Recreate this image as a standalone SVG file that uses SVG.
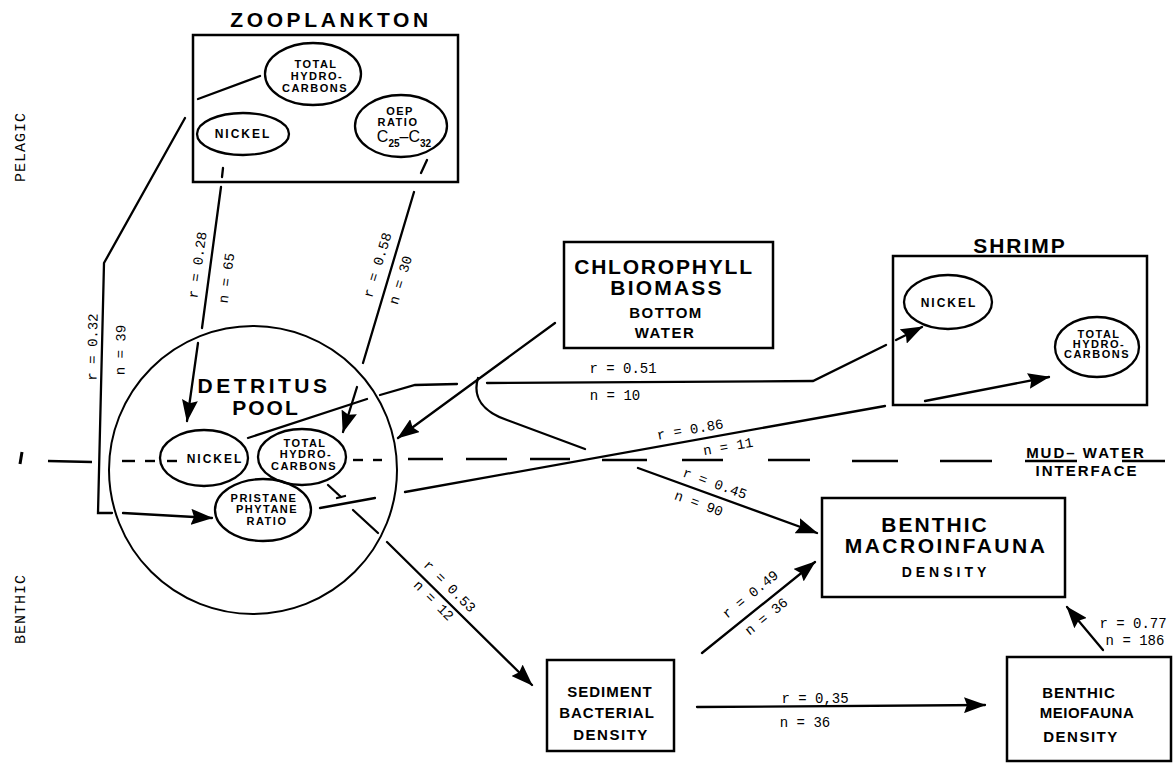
<svg xmlns="http://www.w3.org/2000/svg" width="1176" height="763" viewBox="0 0 1176 763">
<style>
.box{fill:none;stroke:#000;stroke-width:2.5}
.ell{fill:none;stroke:#000;stroke-width:2.3}
.ln{fill:none;stroke:#000;stroke-width:2.3;stroke-linecap:round}
.dash{stroke:#000;stroke-width:2.4}
.t{font-family:"Liberation Sans",Arial,sans-serif;font-weight:bold;fill:#000;text-anchor:middle}
.s{font-size:11px;letter-spacing:1.5px}
.m{font-family:"Liberation Mono","Courier New",monospace;font-size:14px;fill:#000;text-anchor:middle}
.side{font-family:"Liberation Mono","Courier New",monospace;font-size:15px;fill:#000;text-anchor:middle;letter-spacing:1px}
</style>
<defs>
<marker id="ah" viewBox="0 0 22 16" refX="21" refY="8" markerWidth="22" markerHeight="16" markerUnits="userSpaceOnUse" orient="auto">
<path d="M0,0 L22,8 L0,16 L3,8 Z" fill="#000"/>
</marker>
</defs>
<rect width="1176" height="763" fill="#fff"/>

<g id="side-labels">
<text class="side" transform="translate(25,147) rotate(-90)">PELAGIC</text>
<text class="side" transform="translate(25,609) rotate(-90)">BENTHIC</text>
</g>

<g id="interface">
<line class="dash" x1="22" y1="452" x2="20" y2="464" style="stroke-width:3"/>
<line class="dash" x1="48" y1="461" x2="92" y2="462"/>
<line class="dash" x1="122" y1="461" x2="135" y2="461"/>
<line class="dash" x1="145" y1="461" x2="155" y2="461"/>
<line class="dash" x1="167" y1="461" x2="177" y2="461"/>
<line class="dash" x1="353" y1="460" x2="363" y2="460"/>
<line class="dash" x1="373" y1="460" x2="382" y2="460"/>
<line class="dash" x1="408" y1="459" x2="443" y2="459"/>
<line class="dash" x1="466" y1="459" x2="507" y2="459"/>
<line class="dash" x1="530" y1="459" x2="570" y2="459"/>
<line class="dash" x1="602" y1="460" x2="647" y2="460"/>
<line class="dash" x1="682" y1="460" x2="723" y2="460"/>
<line class="dash" x1="768" y1="460" x2="810" y2="460"/>
<line class="dash" x1="852" y1="461" x2="898" y2="461"/>
<line class="dash" x1="940" y1="461" x2="992" y2="461"/>
<line class="dash" x1="1025" y1="461" x2="1077" y2="461"/>
<line class="dash" x1="1122" y1="461" x2="1165" y2="461"/>
<text class="t" x="1086" y="458" style="font-size:15px;letter-spacing:2px">MUD– WATER</text>
<text class="t" x="1087" y="476" style="font-size:15px;letter-spacing:2px">INTERFACE</text>
</g>

<g id="zooplankton">
<text class="t" x="331" y="27" style="font-size:21px;letter-spacing:3.6px">ZOOPLANKTON</text>
<rect class="box" x="193" y="35" width="265" height="147"/>
<ellipse class="ell" cx="313" cy="74" rx="48" ry="31"/>
<text class="t s" x="316" y="68">TOTAL</text>
<text class="t s" x="317" y="80">HYDRO-</text>
<text class="t s" x="315" y="92">CARBONS</text>
<ellipse class="ell" cx="243" cy="134" rx="46" ry="21"/>
<text class="t" x="243" y="138" style="font-size:12px;letter-spacing:2px">NICKEL</text>
<ellipse class="ell" cx="401" cy="126" rx="46" ry="31"/>
<text class="t s" x="400" y="115">OEP</text>
<text class="t s" x="398" y="126">RATIO</text>
<text class="t" x="404" y="142" style="font-size:16px;font-weight:normal">C<tspan style="font-size:10px;font-weight:bold" dy="5">25</tspan><tspan dy="-5">–C</tspan><tspan style="font-size:10px;font-weight:bold" dy="5">32</tspan></text>
</g>

<g id="detritus-pool">
<circle cx="253" cy="470" r="144" fill="none" stroke="#000" stroke-width="2"/>
<text class="t" x="264" y="393" style="font-size:21px;letter-spacing:3.5px">DETRITUS</text>
<text class="t" x="266" y="415" style="font-size:21px;letter-spacing:2px">POOL</text>
<ellipse class="ell" cx="204" cy="458" rx="44" ry="28"/>
<text class="t" x="215" y="463" style="font-size:12px;letter-spacing:2px">NICKEL</text>
<ellipse class="ell" cx="302" cy="457" rx="44" ry="28"/>
<text class="t s" x="305" y="447">TOTAL</text>
<text class="t s" x="306" y="458">HYDRO-</text>
<text class="t s" x="304" y="470">CARBONS</text>
<ellipse class="ell" cx="263" cy="510" rx="48" ry="31"/>
<text class="t s" x="264" y="502">PRISTANE</text>
<text class="t s" x="267" y="513">PHYTANE</text>
<text class="t s" x="267" y="525">RATIO</text>
</g>

<g id="chlorophyll">
<rect class="box" x="564" y="242" width="209" height="106"/>
<text class="t" x="664" y="274" style="font-size:21px;letter-spacing:1.8px">CHLOROPHYLL</text>
<text class="t" x="667" y="295" style="font-size:21px;letter-spacing:2.2px">BIOMASS</text>
<text class="t" x="666" y="318" style="font-size:15px;letter-spacing:1.5px">BOTTOM</text>
<text class="t" x="665" y="338" style="font-size:15px;letter-spacing:1.5px">WATER</text>
</g>

<g id="shrimp">
<text class="t" x="1020" y="253" style="font-size:21px;letter-spacing:2px">SHRIMP</text>
<rect class="box" x="893" y="256" width="254" height="149"/>
<ellipse class="ell" cx="948" cy="302" rx="44" ry="27"/>
<text class="t" x="949" y="307" style="font-size:12px;letter-spacing:2px">NICKEL</text>
<ellipse class="ell" cx="1097" cy="347" rx="42" ry="30"/>
<text class="t s" x="1099" y="338">TOTAL</text>
<text class="t s" x="1099" y="348">HYDRO-</text>
<text class="t s" x="1097" y="358">CARBONS</text>
</g>

<g id="benthic-macroinfauna">
<rect class="box" x="822" y="498" width="243" height="99"/>
<text class="t" x="935" y="532" style="font-size:21px;letter-spacing:2px">BENTHIC</text>
<text class="t" x="946" y="553" style="font-size:21px;letter-spacing:2.5px">MACROINFAUNA</text>
<text class="t" x="946" y="577" style="font-size:14px;letter-spacing:4px">DENSITY</text>
</g>

<g id="sediment">
<rect class="box" x="547" y="660" width="127" height="91"/>
<text class="t" x="610" y="697" style="font-size:15px;letter-spacing:1px">SEDIMENT</text>
<text class="t" x="607" y="718" style="font-size:15px;letter-spacing:1px">BACTERIAL</text>
<text class="t" x="611" y="740" style="font-size:15px;letter-spacing:1.5px">DENSITY</text>
</g>

<g id="benthic-meiofauna">
<rect class="box" x="1007" y="657" width="164" height="104"/>
<text class="t" x="1079" y="698" style="font-size:15px;letter-spacing:1px">BENTHIC</text>
<text class="t" x="1087" y="718" style="font-size:15px;letter-spacing:0.5px">MEIOFAUNA</text>
<text class="t" x="1081" y="742" style="font-size:15px;letter-spacing:1.5px">DENSITY</text>
</g>

<g id="connectors">
<line class="ln" x1="223" y1="168" x2="222" y2="177"/>
<line class="ln" x1="221" y1="187" x2="202" y2="328"/>
<line class="ln" x1="198" y1="343" x2="187" y2="421" marker-end="url(#ah)"/>
<text class="m" transform="translate(197,265) rotate(-82)" y="5">r = 0.28</text>
<text class="m" transform="translate(226,278) rotate(-82)" y="5">n = 65</text>
<line class="ln" x1="427" y1="160" x2="421" y2="173"/>
<line class="ln" x1="414" y1="192" x2="363" y2="363"/>
<line class="ln" x1="357" y1="387" x2="343" y2="432" marker-end="url(#ah)"/>
<text class="m" transform="translate(377,265) rotate(-73)" y="5">r = 0.58</text>
<text class="m" transform="translate(400,280) rotate(-73)" y="5">n = 30</text>
<line class="ln" x1="260" y1="76" x2="198" y2="99"/>
<polyline class="ln" points="185,118 104,263 98,513 112,513"/>
<line class="ln" x1="123" y1="513" x2="212" y2="518" marker-end="url(#ah)"/>
<text class="m" transform="translate(92,347) rotate(-89)" y="5">r = 0.32</text>
<text class="m" transform="translate(120,350) rotate(-89)" y="5">n = 39</text>
<line class="ln" x1="555" y1="323" x2="398" y2="438" marker-end="url(#ah)"/>
<line class="ln" x1="248" y1="438" x2="367" y2="399"/>
<polyline class="ln" points="380,395 415,385 457,384"/>
<polyline class="ln" points="487,383 813,381 886,345"/>
<line class="ln" x1="896" y1="340" x2="922" y2="327" marker-end="url(#ah)"/>
<text class="m" x="623" y="373">r = 0.51</text>
<text class="m" x="615" y="400">n = 10</text>
<path class="ln" d="M478,378 C472,398 484,412 507,420 L585,449"/>
<line class="ln" x1="638" y1="468" x2="817" y2="533" marker-end="url(#ah)"/>
<text class="m" transform="translate(715,483) rotate(20)" y="5">r = 0.45</text>
<text class="m" transform="translate(699,503) rotate(20)" y="5">n = 90</text>
<line class="ln" x1="320" y1="508" x2="375" y2="498"/>
<line class="ln" x1="405" y1="492" x2="885" y2="406"/>
<line class="ln" x1="925" y1="401" x2="1049" y2="377" marker-end="url(#ah)"/>
<text class="m" transform="translate(690,429) rotate(-10)" y="5">r = 0.86</text>
<text class="m" transform="translate(728,446) rotate(-10)" y="5">n = 11</text>
<line class="ln" x1="328" y1="485" x2="341" y2="497"/>
<line class="ln" x1="337" y1="498" x2="345" y2="496"/>
<line class="ln" x1="353" y1="510" x2="378" y2="533"/>
<line class="ln" x1="387" y1="542" x2="532" y2="685" marker-end="url(#ah)"/>
<text class="m" transform="translate(450,586) rotate(45)" y="5">r = 0.53</text>
<text class="m" transform="translate(434,600) rotate(45)" y="5">n = 12</text>
<line class="ln" x1="702" y1="653" x2="815" y2="562" marker-end="url(#ah)"/>
<text class="m" transform="translate(750,594) rotate(-39)" y="5">r = 0.49</text>
<text class="m" transform="translate(766,616) rotate(-39)" y="5">n = 36</text>
<line class="ln" x1="697" y1="707" x2="985" y2="705" marker-end="url(#ah)"/>
<text class="m" x="815" y="703">r = 0,35</text>
<text class="m" x="805" y="727">n = 36</text>
<line class="ln" x1="1103" y1="650" x2="1067" y2="607" marker-end="url(#ah)"/>
<text class="m" x="1133" y="628">r = 0.77</text>
<text class="m" x="1135" y="645">n = 186</text>
</g>
</svg>
